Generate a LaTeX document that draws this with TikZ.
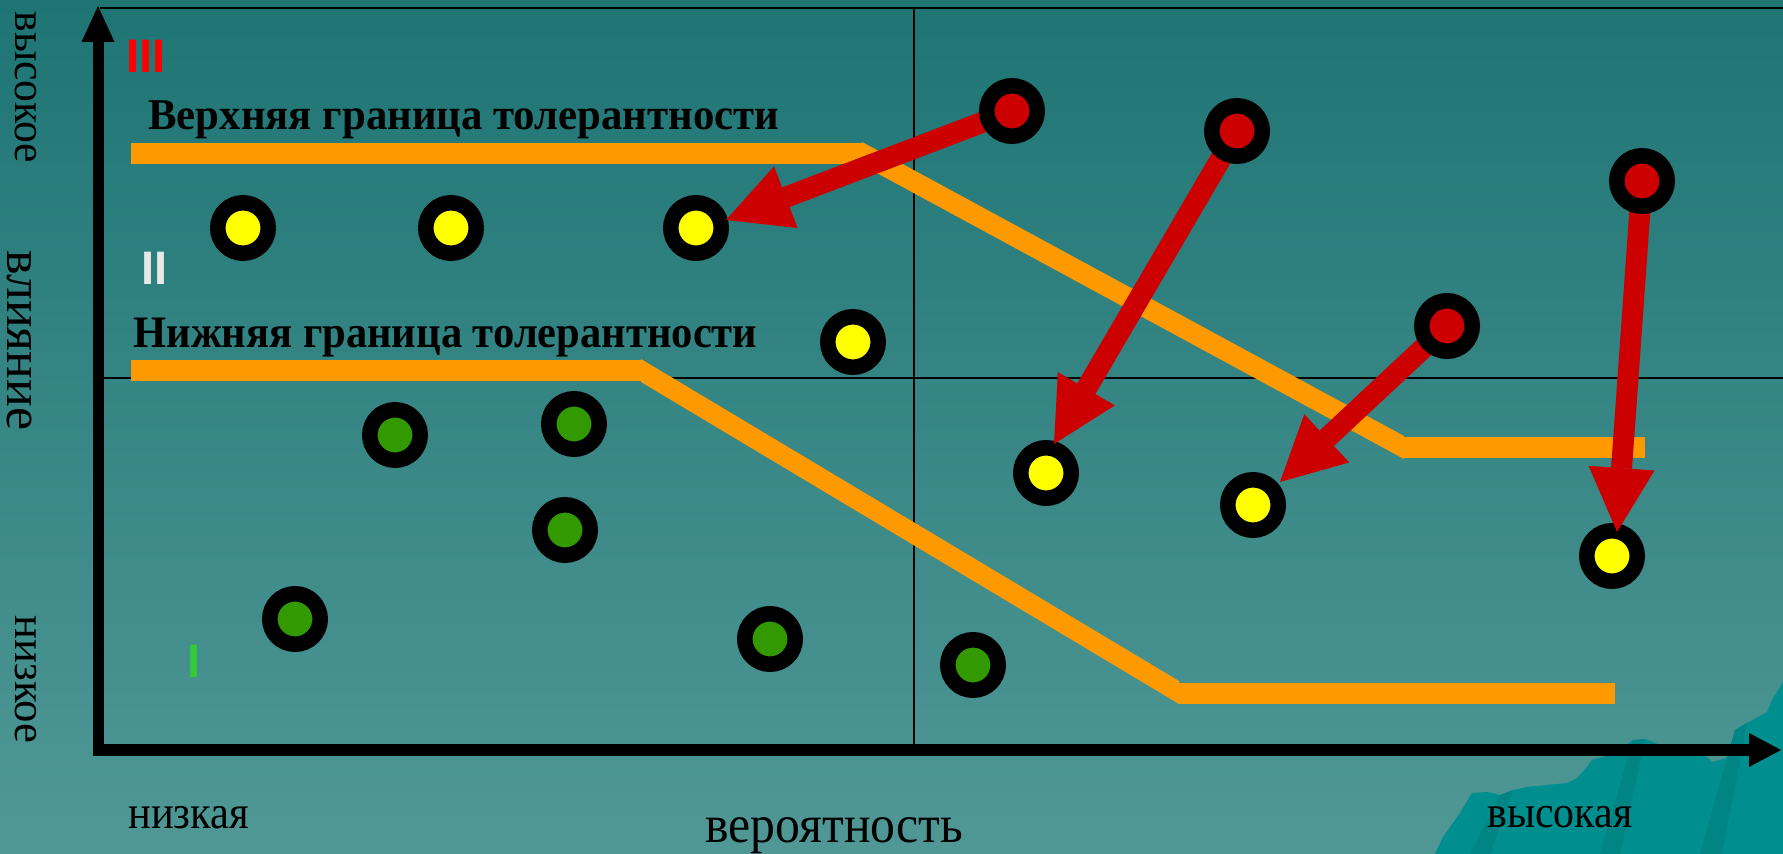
\documentclass[tikz,border=0pt]{standalone}
\usepackage{fontspec}
\usepackage{graphicx}
\setmainfont{Liberation Serif}
\newfontfamily\numfont{Liberation Sans}
\usetikzlibrary{arrows.meta}
\definecolor{bgtop}{RGB}{30,117,116}
\definecolor{bgbot}{RGB}{80,152,150}
\definecolor{tol}{RGB}{255,153,0}
\definecolor{dotred}{RGB}{204,0,0}
\definecolor{dotyel}{RGB}{255,255,0}
\definecolor{dotgrn}{RGB}{51,153,0}
\definecolor{cliff}{RGB}{0,142,142}
\definecolor{cliffdark}{RGB}{0,132,132}
\definecolor{numred}{RGB}{255,0,0}
\definecolor{numwhite}{RGB}{232,232,232}
\definecolor{numgreen}{RGB}{51,204,51}
\begin{document}
\begin{tikzpicture}[x=0.5pt,y=-0.5pt,
  dot/.style={circle, draw=black, line width=7.75pt, minimum size=25.25pt, inner sep=0pt},
  ydot/.style={dot, fill=dotyel},
  gdot/.style={dot, fill=dotgrn},
  rdot/.style={dot, fill=dotred},
  redarrow/.style={draw=dotred, line width=10.5pt, -{Triangle[length=32pt,width=33pt,line width=0pt]}},
  thinline/.style={draw=black, line width=1.2pt},
  axisline/.style={draw=black, line width=5.5pt},
  lbl/.style={anchor=base west, inner sep=0pt, text=black},
  vlbl/.style={lbl, rotate=-90, text depth=0pt},
  numlbl/.style={anchor=base west, inner sep=0pt, font=\numfont\bfseries\fontsize{23.5pt}{28pt}\selectfont}
]
\useasboundingbox (0,0) rectangle (1783,854);
\shade[top color=bgtop, bottom color=bgbot] (0,0) rectangle (1783,854);
% decoration bottom right
\fill[cliff] (1435,854) -- (1443,837) -- (1460,813) -- (1472,793) -- (1487,792) -- (1500,795) -- (1513,790) -- (1527,787) -- (1547,785) -- (1567,783) -- (1577,778) -- (1587,767) -- (1592,760) -- (1603,757) -- (1620,750) -- (1633,740) -- (1645,739) -- (1653,742) -- (1667,748) -- (1693,753) -- (1707,757) -- (1712,762) -- (1727,758) -- (1735,730) -- (1747,723) -- (1767,712) -- (1772,700) -- (1783,682) -- (1783,854) -- cycle;
\fill[cliffdark] (1470,854) -- (1500,795) -- (1513,790) -- (1490,854) -- cycle;
\fill[cliffdark] (1600,854) -- (1633,740) -- (1645,739) -- (1620,854) -- cycle;
\fill[cliffdark] (1700,854) -- (1735,730) -- (1747,723) -- (1722,854) -- cycle;
% thin grid lines
\draw[thinline] (100,8) -- (1783,8);
\draw[thinline] (100,378) -- (1783,378);
\draw[thinline] (914,8) -- (914,750);
% tolerance lines
\fill[tol] (131,143) rectangle (863,164);
\fill[tol] (862,142) -- (1404,436) -- (1404,459) -- (862,165) -- cycle;
\fill[tol] (1402,437) rectangle (1645,458);
\fill[tol] (131,360) rectangle (641,381);
\fill[tol] (641,359) -- (1179,681) -- (1179,704) -- (641,382) -- cycle;
\fill[tol] (1179,683) rectangle (1615,704);
% axes
\draw[axisline, -{Triangle[length=18pt,width=16.5pt,line width=0pt]}] (98,756) -- (98,6);
\draw[axisline, line width=6pt, -{Triangle[length=16pt,width=17pt,line width=0pt]}] (95,750) -- (1781,750);
% dots
\node[ydot] (y1) at (243,228) {};
\node[ydot] (y2) at (451,228) {};
\node[ydot] (y3) at (696,228) {};
\node[ydot] (y4) at (853,342) {};
\node[ydot] (y5) at (1046,473) {};
\node[ydot] (y6) at (1253,505) {};
\node[ydot] (y7) at (1612,556) {};
\node[gdot] (g1) at (395,435) {};
\node[gdot] (g2) at (574,424) {};
\node[gdot] (g3) at (565,530) {};
\node[gdot] (g4) at (295,619) {};
\node[gdot] (g5) at (770,639) {};
\node[gdot] (g6) at (973,665) {};
% arrow start points (red dot centres) and tips
\coordinate (s1) at (1012,111);
\coordinate (s2) at (1237,131);
\coordinate (s3) at (1642,181);
\coordinate (s4) at (1447,326);
\coordinate (t1) at (726,220);
\coordinate (t2) at (1054,444);
\coordinate (t3) at (1280,482);
\coordinate (t4) at (1617,532);
\draw[redarrow] (s1) -- (t1);
\draw[redarrow] (s2) -- (t2);
\draw[redarrow] (s4) -- (t3);
\draw[redarrow] (s3) -- (t4);
\node[rdot] (r1) at (s1) {};
\node[rdot] (r2) at (s2) {};
\node[rdot] (r3) at (s3) {};
\node[rdot] (r4) at (s4) {};
% labels
\node[lbl, font=\bfseries\fontsize{22pt}{26pt}\selectfont] (upper) at (148,130) {\resizebox{315.5pt}{\height}{Верхняя граница толерантности}};
\node[lbl, font=\bfseries\fontsize{22.5pt}{27pt}\selectfont] (lower) at (133,348) {\resizebox{312pt}{\height}{Нижняя граница толерантности}};
\node[numlbl, text=numred] (n3) at (126,73) {III};
\node[numlbl, text=numwhite] (n2) at (141,285) {II};
\node[numlbl, text=numgreen] (n1) at (187,678) {I};
% axis labels
\node[vlbl, font=\fontsize{22.5pt}{27pt}\selectfont] (vhigh) at (15,11) {\resizebox{76pt}{\height}{высокое}};
\node[vlbl, font=\fontsize{26pt}{31pt}\selectfont] (vmid) at (8,250) {\resizebox{90pt}{\height}{влияние}};
\node[vlbl, font=\fontsize{22.5pt}{27pt}\selectfont] (vlow) at (15,615) {\resizebox{64pt}{\height}{низкое}};
\node[lbl, font=\fontsize{23.5pt}{28pt}\selectfont] (hlow) at (128,828) {\resizebox{60.5pt}{\height}{низкая}};
\node[lbl, font=\fontsize{26.5pt}{32pt}\selectfont] (hmid) at (705,842) {\resizebox{129pt}{\height}{вероятность}};
\node[lbl, font=\fontsize{22.5pt}{27pt}\selectfont] (hhigh) at (1487,828) {\resizebox{72.5pt}{\height}{высокая}};
\end{tikzpicture}
\end{document}
